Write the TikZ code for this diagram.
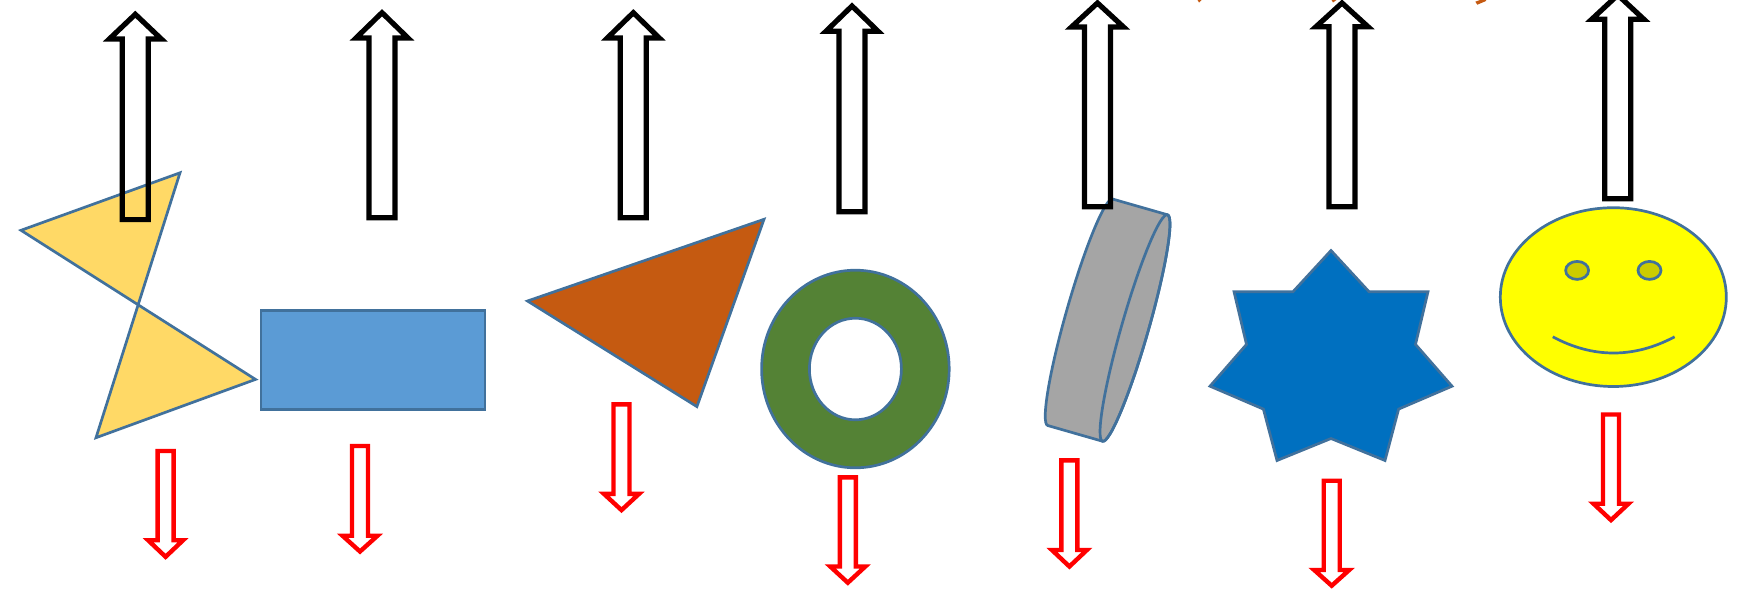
\documentclass[tikz,border=0pt]{standalone}
\definecolor{edgeblue}{HTML}{41719C}
\definecolor{bowyellow}{HTML}{FFD966}
\definecolor{boxblue}{HTML}{5B9BD5}
\definecolor{rust}{HTML}{C55A11}
\definecolor{leaf}{HTML}{548235}
\definecolor{cangray}{HTML}{A5A5A5}
\definecolor{starblue}{HTML}{0070C0}
\definecolor{faceyellow}{HTML}{FFFF00}
\definecolor{eyeyellow}{HTML}{CCCC00}
\definecolor{arrowred}{HTML}{FF0000}
\tikzset{
  shapeline/.style={draw=edgeblue, line width=2.7pt, line join=miter},
  uparrow/.style={draw=black, line width=5.2pt, line join=miter, miter limit=10},
  downarrow/.style={draw=arrowred, line width=4.4pt, line join=miter, miter limit=10}
}
\newcommand{\uparrowbox}[4]{
  \draw[uparrow] (#1,#2) -- ({#1+26},#3) -- ({#1+13},#3) -- ({#1+13},#4)
    -- ({#1-13},#4) -- ({#1-13},#3) -- ({#1-26},#3) -- cycle;
}
\newcommand{\downarrowbox}[4]{
  \draw[downarrow] ({#1-8},#2) -- ({#1+8},#2) -- ({#1+8},#3) -- ({#1+17.5},#3)
    -- (#1,#4) -- ({#1-17.5},#3) -- ({#1-8},#3) -- cycle;
}
\begin{document}
\begin{tikzpicture}[x=1pt, y=-1pt]
    \useasboundingbox (0,0) rectangle (1742,590);
    % shapes
    \draw[shapeline, fill=bowyellow] (21,230.3) -- (180,172.8) -- (96,437.7) -- (255.5,379.4) -- cycle;
    \draw[shapeline, fill=boxblue] (261,310.5) rectangle (485,409.5);
    \draw[shapeline, fill=rust] (527.5,301) -- (764,219.3) -- (696.9,406.6) -- cycle;
    \draw[shapeline, fill=leaf, even odd rule] (855.4,369) ellipse [x radius=93.8, y radius=98.8]
      (855.4,369) ellipse [x radius=46, y radius=50.8];
    \begin{scope}[shift={(1135,328)}, rotate=74]
      \draw[shapeline, fill=cangray] (117.8,0) -- (117.8,-57)
        arc [start angle=0, end angle=-180, x radius=117.8, y radius=13.5]
        -- (-117.8,0) arc [start angle=180, end angle=0, x radius=117.8, y radius=13.5] -- cycle;
      \draw[shapeline] (0,0) ellipse [x radius=117.8, y radius=13.5];
    \end{scope}
    \draw[shapeline, fill=starblue] (1331,250.5) -- (1369,291.7) -- (1428,291.7) -- (1415.5,344.4)
      -- (1452,386.2) -- (1398.6,409.1) -- (1385,460.5) -- (1331,438.5) -- (1277,460.5)
      -- (1263.4,409.1) -- (1210,386.2) -- (1246.5,344.4) -- (1234,291.7) -- (1293,291.7) -- cycle;
    \draw[shapeline, fill=faceyellow] (1613.3,297.1) ellipse [x radius=113, y radius=89.4];
    \draw[shapeline, fill=eyeyellow] (1577.1,270.4) ellipse [x radius=11.5, y radius=9];
    \draw[shapeline, fill=eyeyellow] (1649.5,270.4) ellipse [x radius=11.5, y radius=9];
    \draw[shapeline] (1552.8,336.8) .. controls (1593,358.4) and (1634,358.4) .. (1674.6,336.8);
    % scraps on the top edge
    \fill[rust] (1197.5,0) -- (1201.5,0) -- (1199,2.5) -- cycle;
    \fill[rust] (1331.5,0) -- (1336.5,0) -- (1333,2.5) -- cycle;
    \fill[rust] (1475.3,1.7) -- (1477.3,4.7) -- (1486,1) -- (1486,0) -- (1480,0) -- cycle;
    % black arrows
    \uparrowbox{135.3}{14.3}{39}{219.6}
    \uparrowbox{382}{12.7}{38}{217.8}
    \uparrowbox{633.3}{12.7}{38}{217.8}
    \uparrowbox{852}{6}{31.2}{211.8}
    \uparrowbox{1097.5}{3}{27}{206.7}
    \uparrowbox{1342}{3}{26.7}{206.7}
    \uparrowbox{1617.8}{-5}{19.2}{198.8}
    % red arrows
    \downarrowbox{165.6}{451}{540.2}{556.8}
    \downarrowbox{360}{446}{535.7}{551.5}
    \downarrowbox{621.5}{404.3}{493.9}{510.1}
    \downarrowbox{847.8}{477.3}{566.5}{582.7}
    \downarrowbox{1069.4}{460.4}{550}{566.5}
    \downarrowbox{1331.7}{480.7}{570}{585.7}
    \downarrowbox{1611}{414.5}{503.7}{520.1}
\end{tikzpicture}
\end{document}
